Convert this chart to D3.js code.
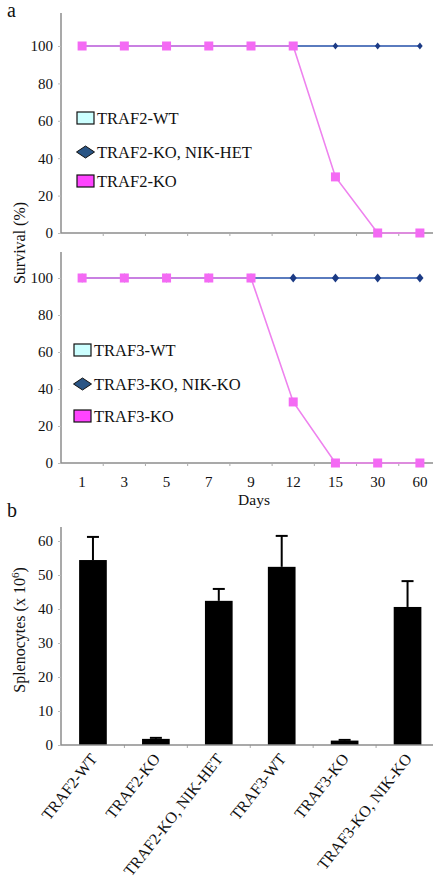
<!DOCTYPE html>
<html><head><meta charset="utf-8">
<script src="https://cdn.jsdelivr.net/npm/d3@7/dist/d3.min.js"></script>
<style>html,body{margin:0;padding:0;background:#fff;}svg{display:block;font-family:"Liberation Serif","Times New Roman",serif;}</style>
</head><body>
<script>
const days = ["1","3","5","7","9","12","15","30","60"];
const survivalTicks = [0,20,40,60,80,100];
const traf2WT = [100,100,100,100,100,100,100,100,100];
const traf2KONikHet = [100,100,100,100,100,100,100,100,100];
const traf2KO = [100,100,100,100,100,100,30,0,0];
const traf3WT = [100,100,100,100,100,100,100,100,100];
const traf3KONikKO = [100,100,100,100,100,100,100,100,100];
const traf3KO = [100,100,100,100,100,33,0,0,0];
const legend2 = ["TRAF2-WT","TRAF2-KO, NIK-HET","TRAF2-KO"];
const legend3 = ["TRAF3-WT","TRAF3-KO, NIK-KO","TRAF3-KO"];

const barCategories = ["TRAF2-WT","TRAF2-KO","TRAF2-KO, NIK-HET","TRAF3-WT","TRAF3-KO","TRAF3-KO, NIK-KO"];
const barMeans = [54.4, 1.8, 42.4, 52.4, 1.3, 40.6];
const barErrors = [6.8, 0.3, 3.5, 9.1, 0.2, 7.6];
const splenoTicks = [0,10,20,30,40,50,60];

const W = 442, H = 894;
const svg = d3.select("body").append("svg").attr("width", W).attr("height", H);
const axisColor = "#8c8c8c";
const pinkLine = "#ee82ee", pinkMark = "#f46af4";
const blueLine = "#2f4fa8", blueMark = "#1c3b85";

function survivalPanel(cfg) {
  const x = d3.scaleBand().domain(days).range([61, 441]);
  const y = d3.scaleLinear().domain([0, 100]).range([cfg.y0, cfg.y100]);
  const g = svg.append("g");
  g.append("line").attr("x1", 61).attr("x2", 61).attr("y1", cfg.top).attr("y2", cfg.y0)
    .attr("stroke", axisColor).attr("stroke-width", 1.5);
  g.append("line").attr("x1", 61).attr("x2", 433).attr("y1", cfg.y0).attr("y2", cfg.y0)
    .attr("stroke", axisColor).attr("stroke-width", 1.5);
  const ya = d3.axisLeft(y).tickValues(survivalTicks).tickSize(3).tickPadding(5);
  const yg = g.append("g").attr("transform", "translate(61,0)").call(ya);
  yg.select(".domain").remove();
  yg.selectAll(".tick line").attr("stroke", "#bbb");
  yg.selectAll(".tick text").attr("font-size", 15).attr("fill", "#111")
    .attr("font-family", "Liberation Serif");
  g.selectAll(".xt").data(days.slice(1)).join("line")
    .attr("x1", d => x(d)).attr("x2", d => x(d))
    .attr("y1", cfg.y0).attr("y2", cfg.y0 + 3).attr("stroke", "#aaa");
  const line = d3.line().x((d, i) => x(days[i]) + x.bandwidth() / 2).y(d => y(d));
  g.append("path").datum(cfg.wt).attr("d", line).attr("fill", "none").attr("stroke", "#ccffff").attr("stroke-width", 1.5);
  g.append("path").datum(cfg.nik).attr("d", line).attr("fill", "none").attr("stroke", blueLine).attr("stroke-width", 1.6);
  const ds = cfg.dsize;
  g.selectAll(".dm").data(cfg.nik).join("path")
    .attr("transform", (d, i) => `translate(${x(days[i]) + x.bandwidth() / 2},${y(d)})`)
    .attr("d", `M0,${-ds}L${ds * 0.8},0L0,${ds}L${-ds * 0.8},0Z`).attr("fill", blueMark);
  g.append("path").datum(cfg.ko).attr("d", line).attr("fill", "none").attr("stroke", pinkLine).attr("stroke-width", 1.6);
  g.selectAll(".sq").data(cfg.ko).join("rect")
    .attr("x", (d, i) => x(days[i]) + x.bandwidth() / 2 - 4.5).attr("y", d => y(d) - 4.5)
    .attr("width", 9).attr("height", 9).attr("fill", pinkMark);
  const sw = ["#ccffff", null, "#ff44ff"];
  cfg.legend.forEach((t, i) => {
    const cy = cfg.legY[i];
    if (i === 1) {
      g.append("path").attr("transform", `translate(${cfg.legX + 8.5},${cy})`)
        .attr("d", "M0,-6L9,0L0,6L-9,0Z").attr("fill", "#2a5585").attr("stroke", "#111").attr("stroke-width", 1);
    } else {
      g.append("rect").attr("x", cfg.legX).attr("y", cy - 6).attr("width", 17).attr("height", 12)
        .attr("fill", sw[i]).attr("stroke", "#111").attr("stroke-width", 1.2);
    }
    g.append("text").attr("x", cfg.legX + 20).attr("y", cy + 5.5).attr("font-size", 16.5)
      .attr("fill", "#111").text(t);
  });
  return x;
}

survivalPanel({top: 13, y0: 233, y100: 46, wt: traf2WT, nik: traf2KONikHet, ko: traf2KO,
  legend: legend2, legX: 77, legY: [118, 152, 181], dsize: 3.5});
const xDays = survivalPanel({top: 252, y0: 463, y100: 278, wt: traf3WT, nik: traf3KONikKO, ko: traf3KO,
  legend: legend3, legX: 74, legY: [350, 384, 416], dsize: 4.5});

svg.append("g").selectAll("text").data(days).join("text")
  .attr("x", d => xDays(d) + xDays.bandwidth() / 2).attr("y", 487)
  .attr("text-anchor", "middle").attr("font-size", 15).attr("fill", "#111").text(d => d);
svg.append("text").attr("x", 254).attr("y", 505).attr("text-anchor", "middle")
  .attr("font-size", 15.5).attr("fill", "#111").text("Days");
svg.append("text").attr("transform", "translate(25,243) rotate(-90)").attr("text-anchor", "middle")
  .attr("font-size", 16).attr("fill", "#111").text("Survival (%)");

svg.append("text").attr("x", 7).attr("y", 17).attr("font-size", 20).attr("fill", "#111").text("a");
svg.append("text").attr("x", 7).attr("y", 517).attr("font-size", 20).attr("fill", "#111").text("b");

const xb = d3.scaleBand().domain(barCategories).range([61.5, 439]).paddingInner(0.56).paddingOuter(0.28);
const yb = d3.scaleLinear().domain([0, 60]).range([745, 541]);
const bg = svg.append("g");
bg.append("line").attr("x1", 61).attr("x2", 61).attr("y1", 527).attr("y2", 745)
  .attr("stroke", axisColor).attr("stroke-width", 1.5);
const yba = d3.axisLeft(yb).tickValues(splenoTicks).tickSize(3).tickPadding(5);
const ybg = bg.append("g").attr("transform", "translate(61,0)").call(yba);
ybg.select(".domain").remove();
ybg.selectAll(".tick line").attr("stroke", "#bbb");
ybg.selectAll(".tick text").attr("font-size", 15).attr("fill", "#111").attr("font-family", "Liberation Serif");
const step = xb.step();
bg.selectAll(".bt").data(barCategories.slice(1)).join("line")
  .attr("x1", d => xb(d) - step * 0.28).attr("x2", d => xb(d) - step * 0.28)
  .attr("y1", 745).attr("y2", 748).attr("stroke", "#aaa");
bg.selectAll(".eb").data(barCategories).join("line")
  .attr("x1", d => xb(d) + xb.bandwidth() / 2).attr("x2", d => xb(d) + xb.bandwidth() / 2)
  .attr("y1", (d, i) => yb(barMeans[i])).attr("y2", (d, i) => yb(barMeans[i] + barErrors[i]))
  .attr("stroke", "#000").attr("stroke-width", 2);
bg.selectAll(".ec").data(barCategories).join("line")
  .attr("x1", d => xb(d) + xb.bandwidth() / 2 - 6).attr("x2", d => xb(d) + xb.bandwidth() / 2 + 6)
  .attr("y1", (d, i) => yb(barMeans[i] + barErrors[i])).attr("y2", (d, i) => yb(barMeans[i] + barErrors[i]))
  .attr("stroke", "#000").attr("stroke-width", 2);
bg.selectAll(".bar").data(barCategories).join("rect")
  .attr("x", d => xb(d)).attr("width", xb.bandwidth())
  .attr("y", (d, i) => yb(barMeans[i])).attr("height", (d, i) => 745 - yb(barMeans[i]))
  .attr("fill", "#000");
bg.append("line").attr("x1", 61).attr("x2", 433).attr("y1", 745).attr("y2", 745)
  .attr("stroke", axisColor).attr("stroke-width", 1.5);
bg.selectAll(".xl").data(barCategories).join("text")
  .attr("transform", d => `translate(${xb(d) + xb.bandwidth() / 2 + 5},759) rotate(-52)`)
  .attr("text-anchor", "end").attr("font-size", 16).attr("fill", "#111").text(d => d);
const yl = svg.append("text").attr("transform", "translate(25,630) rotate(-90)").attr("text-anchor", "middle")
  .attr("font-size", 16).attr("fill", "#111");
yl.append("tspan").text("Splenocytes (x 10");
yl.append("tspan").attr("font-size", 11).attr("dy", -6).text("6");
yl.append("tspan").attr("dy", 6).text(")");
</script>
</body></html>
